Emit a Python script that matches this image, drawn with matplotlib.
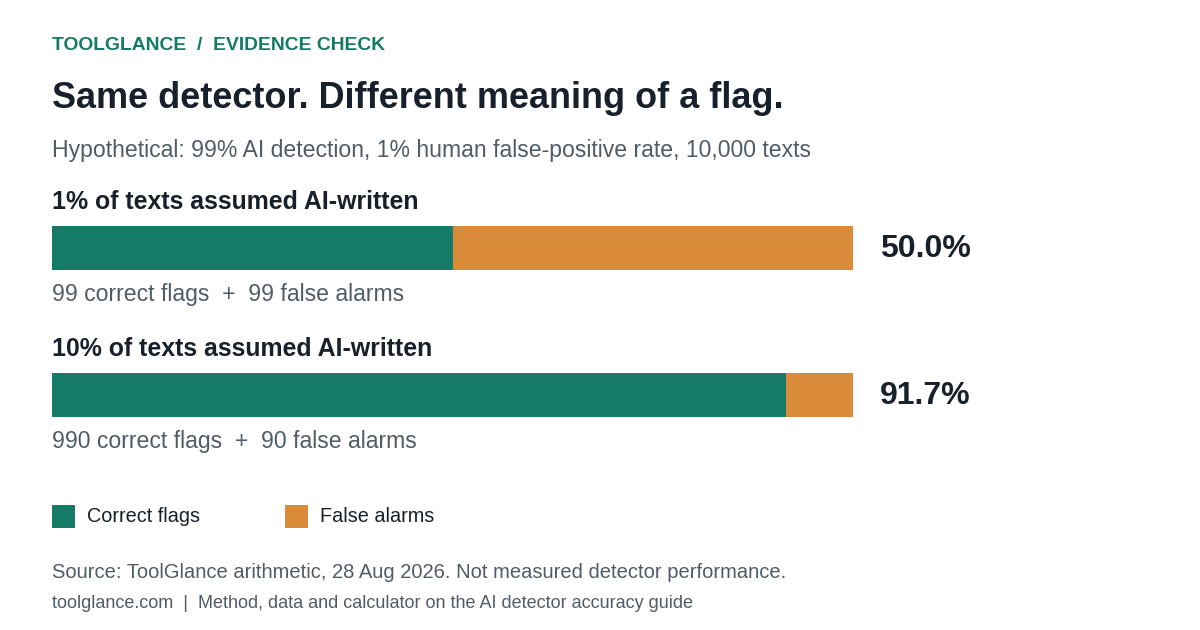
import matplotlib
matplotlib.use('Agg')
import matplotlib.pyplot as plt
from matplotlib.patches import Rectangle

# data
scenarios = ['1% of texts assumed AI-written', '10% of texts assumed AI-written']
correct = [99, 990]
false_alarms = [99, 90]
series_names = ['Correct flags', 'False alarms']

GREEN = '#157B67'
ORANGE = '#D98B3A'
DARK = '#18202B'
GREY = '#515B67'

plt.rcParams['font.family'] = ['Liberation Sans', 'DejaVu Sans']

W, H = 1200, 630
fig = plt.figure(figsize=(W / 100, H / 100), dpi=100)
fig.patch.set_facecolor('white')


def px(x, y):
    return x / W, 1 - y / H


def text(x, y, s, **kw):
    # y is the baseline in pixels from the top
    kw.setdefault('va', 'baseline')
    kw.setdefault('ha', 'left')
    fig.text(*px(x, y), s, **kw)


text(52, 50, 'TOOLGLANCE  /  EVIDENCE CHECK', fontsize=13.9, fontweight='bold', color=GREEN)
text(52, 108, 'Same detector. Different meaning of a flag.', fontsize=25.9, fontweight='bold', color=DARK)
text(52, 157, 'Hypothetical: 99% AI detection, 1% human false-positive rate, 10,000 texts',
     fontsize=16.6, color=GREY)

# bar area: 52..853 px wide, bars centred at 248 and 395, 44 px tall
x0, x1 = 52, 853
top, bot = 226, 417
step = 147
ax = fig.add_axes([x0 / W, 1 - bot / H, (x1 - x0) / W, (bot - top) / H])
ax.set_xlim(0, 1)
ax.set_ylim(1 + 22 / step, -22 / step)
ax.axis('off')

bar_h = 44 / step
for i, (c, f) in enumerate(zip(correct, false_alarms)):
    total = c + f
    ax.barh(i, c / total, height=bar_h, left=0, color=GREEN, linewidth=0)
    ax.barh(i, f / total, height=bar_h, left=c / total, color=ORANGE, linewidth=0)
    yc = 248 + i * step
    text(52, yc - 39, scenarios[i], fontsize=17.9, fontweight='bold', color=DARK)
    text(880, yc + 9, f'{100 * c / total:.1f}%', fontsize=23, fontweight='bold', color=DARK)
    text(52, yc + 53, f'{c:,} correct flags  +  {f:,} false alarms', fontsize=16.6, color=GREY)

# legend
for (lx, name, col) in [(52, series_names[0], GREEN), (285, series_names[1], ORANGE)]:
    fig.patches.append(Rectangle(px(lx, 528), 23 / W, 23 / H, transform=fig.transFigure,
                                 facecolor=col, edgecolor='none'))
    text(lx + 35, 522, name, fontsize=14.3, color=DARK)

text(52, 578, 'Source: ToolGlance arithmetic, 28 Aug 2026. Not measured detector performance.',
     fontsize=14.5, color=GREY)
text(52, 608, 'toolglance.com  |  Method, data and calculator on the AI detector accuracy guide',
     fontsize=13.0, color=GREY)

fig.savefig('out.png', dpi=100, facecolor='white')
